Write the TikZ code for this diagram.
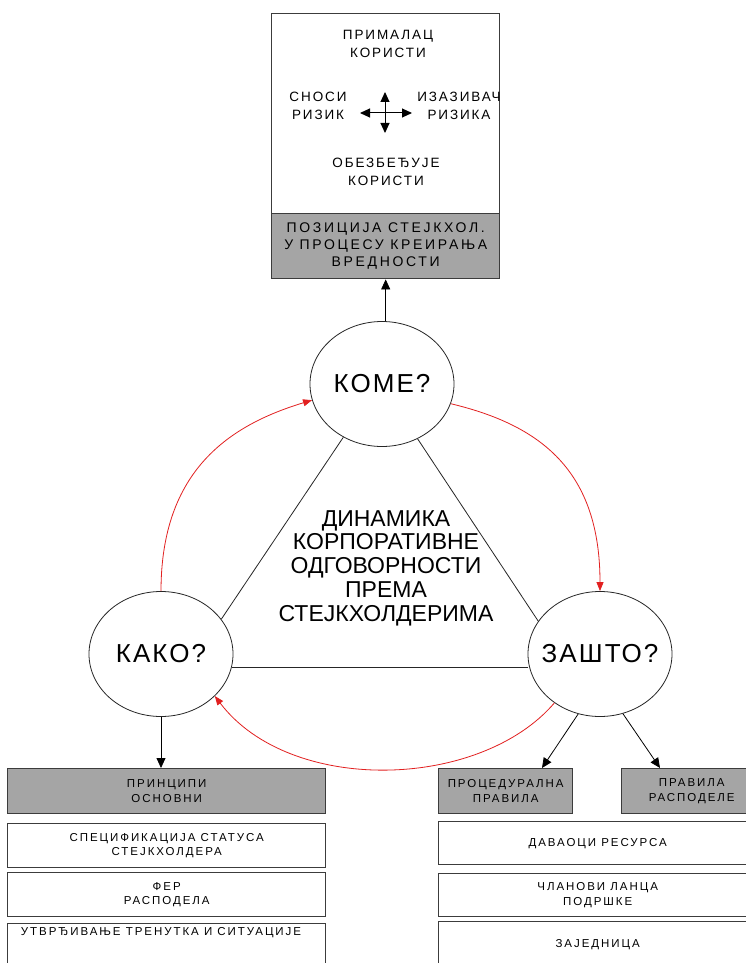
\documentclass[tikz,border=0pt]{standalone}
\usepackage{fontspec}
\setmainfont{Liberation Sans}
\newfontfamily\bubfont[LetterSpace=8]{Liberation Sans}
\newfontfamily\topfont[LetterSpace=14]{Liberation Sans}
\newfontfamily\posfont[LetterSpace=19]{Liberation Sans}
\newfontfamily\boxfont[LetterSpace=17]{Liberation Sans}
\usetikzlibrary{shapes.geometric,arrows.meta}
\definecolor{boxgray}{RGB}{165,165,165}
\definecolor{arrred}{RGB}{226,32,32}
\definecolor{edge}{RGB}{60,60,60}
\newcommand{\zw}[1]{\makebox[0pt][c]{#1}}
\begin{document}
\begin{tikzpicture}[x=1pt,y=-1pt,
  bub/.style={draw=black!85, line width=0.8pt, ellipse, minimum width=144pt, minimum height=125pt, inner sep=0pt, font=\bubfont\fontsize{26}{28}\selectfont},
  gbox/.style={draw=edge, line width=1.4pt, fill=boxgray, inner sep=0pt, align=center, anchor=north west, font=\boxfont\fontsize{11.5}{14.5}\selectfont},
  wbox/.style={draw=edge, line width=1.4pt, fill=white, inner sep=0pt, align=center, anchor=north west, font=\boxfont\fontsize{11.5}{14.5}\selectfont},
  btext/.style={inner sep=0pt, align=center, font=\boxfont\fontsize{11.5}{14.5}\selectfont},
  toptext/.style={inner sep=0pt, align=center, font=\topfont\fontsize{13.5}{18}\selectfont},
  blk/.style={line width=0.8pt, -{Triangle[length=10pt,width=9pt]}},
  redarr/.style={draw=arrred, line width=0.8pt, -{Triangle[length=9pt,width=7pt]}},
  tri/.style={line width=0.8pt, draw=black!85},
  cross/.style={line width=1pt, {Triangle[length=10pt,width=9pt]}-{Triangle[length=10pt,width=9pt]}}
]
\useasboundingbox (0,0) rectangle (746,963);
\clip (0,0) rectangle (746,963);
\fill[white] (0,0) rectangle (746,963);

% top box
\node[wbox, minimum width=228pt, minimum height=265pt] (topbox) at (271,13) {};
\node[gbox, minimum width=228pt, minimum height=65pt, font=\posfont\fontsize{14}{17}\selectfont] (pos) at (271,213) {ПОЗИЦИЈА СТЕЈКХОЛ.\\У ПРОЦЕСУ КРЕИРАЊА\\ВРЕДНОСТИ};
\node[toptext] (prim) at (388,44) {ПРИМАЛАЦ\\КОРИСТИ};
\node[toptext] (snosi) at (318,106) {СНОСИ\\РИЗИК};
\node[toptext] (izaz) at (459,106) {ИЗАЗИВАЧ\\РИЗИКА};
\node[toptext] (obez) at (386,172) {ОБЕЗБЕЂУЈЕ\\КОРИСТИ};
\coordinate (cw) at (360,113);
\coordinate (ce) at (412,113);
\coordinate (cn) at (385,92);
\coordinate (cs) at (385,133);
\draw[cross] (cw) -- (ce);
\draw[cross] (cn) -- (cs);

% circles
\node[bub] (kome) at (382,384) {\zw{КОМЕ?}};
\node[bub] (kako) at (161,654) {\zw{КАКО?}};
\node[bub] (zasto) at (600,654) {\zw{ЗАШТО?}};

\node[inner sep=0pt, align=center, font=\fontsize{23}{23.75}\selectfont] (dyn) at (386,568) {ДИНАМИКА\\КОРПОРАТИВНЕ\\ОДГОВОРНОСТИ\\ПРЕМА\\СТЕЈКХОЛДЕРИМА};

% triangle
\draw[tri] (kome.-126) -- (kako.30);
\draw[tri] (kome.-57) -- (zasto.152);
\draw[tri] (kako.-11.5) -- (kako.-11.5 -| zasto.west);

% red cycle
\draw[redarr] (kako.north) .. controls (161,470) and (230,425) .. (kome.-167);
\draw[redarr] (kome.-16) .. controls (540,425) and (600,470) .. (zasto.north);
\draw[redarr] (zasto.-133.5) .. controls (480,790) and (290,795) .. (kako.-38.5);

% bottom boxes left
\node[gbox, minimum width=318pt, minimum height=45pt] (pr) at (7,768) {ПРИНЦИПИ\\ОСНОВНИ};
\node[wbox, minimum width=318pt, minimum height=44pt] (l1) at (7,823) {СПЕЦИФИКАЦИЈА СТАТУСА\\СТЕЈКХОЛДЕРА};
\node[wbox, minimum width=318pt, minimum height=44pt] (l2) at (7,872) {ФЕР\\РАСПОДЕЛА};
\node[wbox, minimum width=318pt, minimum height=46pt] (l3) at (7,923) {};
\node[btext] (l3t) at (161,933) {УТВРЂИВАЊЕ ТРЕНУТКА И СИТУАЦИЈЕ};

% bottom boxes right
\node[gbox, minimum width=134pt, minimum height=45pt] (pc) at (438,768) {ПРОЦЕДУРАЛНА\\ПРАВИЛА};
\node[gbox, minimum width=140pt, minimum height=45pt] (pd) at (621,768) {ПРАВИЛА\\РАСПОДЕЛЕ};
\node[wbox, minimum width=318pt, minimum height=43pt] (r1) at (438,821) {ДАВАОЦИ РЕСУРСА};
\node[wbox, minimum width=318pt, minimum height=43pt] (r2) at (438,873) {ЧЛАНОВИ ЛАНЦА\\ПОДРШКЕ};
\node[wbox, minimum width=318pt, minimum height=46pt] (r3) at (438,921) {ЗАЈЕДНИЦА};

% black arrows
\draw[blk] (kome.north -| pos.south) -- (pos.south);
\draw[blk] (kako.south) -- (kako.south |- pr.north);
\coordinate (t1) at (542,768);
\coordinate (t2) at (660,768);
\draw[blk] (zasto.-110.6) -- (t1);
\draw[blk] (zasto.-69.4) -- (t2);
\end{tikzpicture}
\end{document}
